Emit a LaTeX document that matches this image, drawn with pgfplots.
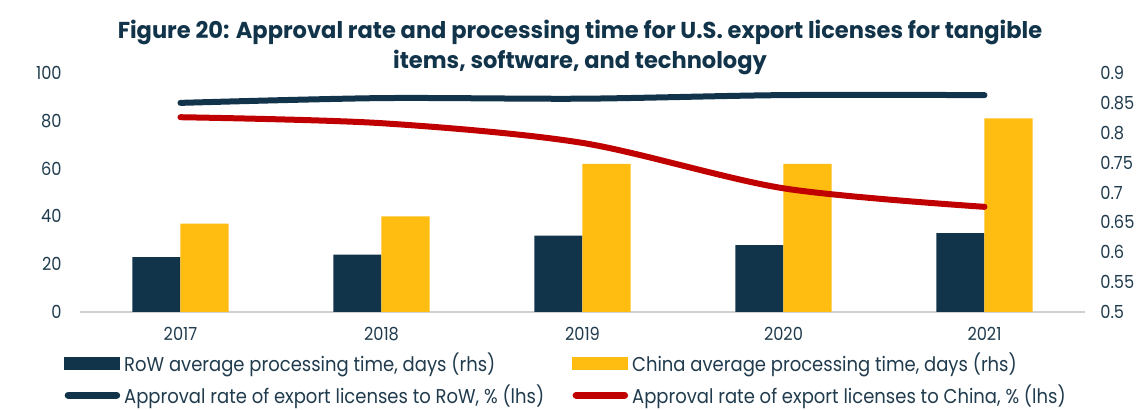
\documentclass[border=0pt]{standalone}
\usepackage{fontspec}
\setmainfont[FakeStretch=0.9]{Poppins}
\newfontfamily\titlefont[FakeStretch=0.98]{Poppins}
\usepackage{pgfplots}
\pgfplotsset{compat=1.18}

\definecolor{navy}{HTML}{12344A}
\definecolor{gold}{HTML}{FFBC11}
\definecolor{redline}{HTML}{C00000}
\definecolor{txt}{HTML}{1F3B4D}
\definecolor{baseline}{HTML}{D0D0D0}

\begin{document}
\begin{tikzpicture}
\pgfplotsset{
  common/.style={
    scale only axis, width=502.5pt, height=119.5pt,
    at={(0,0)}, anchor=south west,
    xmin=-0.5, xmax=4.5,
    tick style={draw=none},
    ticklabel style={font=\fontsize{9}{10}\selectfont, text=txt},
    /pgf/number format/assume math mode=true,
  },
}
% bars, left axis
\begin{axis}[
  common,
  ybar=0pt, bar width=0.24,
  ymin=0, ymax=100, ytick={0,20,40,60,80,100},
  xtick={0,1,2,3,4}, xticklabels={2017,2018,2019,2020,2021},
  axis x line*=bottom, axis y line*=left,
  x axis line style={draw=baseline, line width=1.2pt, -},
  y axis line style={draw=none},
  yticklabel style={inner sep=0pt, xshift=-9pt},
  xticklabel style={inner sep=0pt, yshift=-3pt},
]
\addplot[fill=navy, draw=none] coordinates {(0,23) (1,24) (2,32) (3,28) (4,33)};
\addplot[fill=gold, draw=none] coordinates {(0,37) (1,40) (2,62) (3,62) (4,81)};
\end{axis}
% lines, right axis
\begin{axis}[
  common,
  ymin=0.5, ymax=0.9,
  ytick={0.5,0.55,0.6,0.65,0.7,0.75,0.8,0.85,0.9},
  axis x line=none, axis y line*=right,
  y axis line style={draw=none},
  yticklabel style={inner sep=0pt, xshift=7.5pt, anchor=west},
  legend columns=2,
  legend cell align=left,
  legend style={at={(-0.022,-0.135)}, anchor=north west, draw=none, fill=none,
    font=\fontsize{10}{11.5}\selectfont, text=txt, row sep=1pt,
    /tikz/every even column/.append style={column sep=12pt}},
]
\addlegendimage{legend image code/.code={\fill[navy] (0pt,-3pt) rectangle (27.5pt,3pt);}}
\addlegendentry{RoW average processing time, days (rhs)}
\addlegendimage{legend image code/.code={\fill[gold] (0pt,-3pt) rectangle (27.5pt,3pt);}}
\addlegendentry{China average processing time, days (rhs)}
\addplot[navy, line width=3pt, line cap=round, smooth,
  legend image code/.code={\draw[navy, line width=3.5pt, line cap=round] (1.75pt,0pt) -- (26pt,0pt);}]
  coordinates {(0,0.850) (1,0.858) (2,0.857) (3,0.863) (4,0.863)};
\addlegendentry{Approval rate of export licenses to RoW, \% (lhs)}
\addplot[redline, line width=3pt, line cap=round, smooth,
  legend image code/.code={\draw[redline, line width=3.5pt, line cap=round] (1.75pt,0pt) -- (26pt,0pt);}]
  coordinates {(0,0.826) (1,0.816) (2,0.783) (3,0.707) (4,0.676)};
\addlegendentry{Approval rate of export licenses to China, \% (lhs)}
\end{axis}
\node[font=\titlefont\bfseries\fontsize{11.5}{15}\selectfont, text=navy, align=center] at (250pt,132.5pt)
  {Figure 20: Approval rate and processing time for U.S. export licenses for tangible\\items, software, and technology};
\pgfresetboundingbox
\path[use as bounding box] (-40pt,-49pt) rectangle (530.5pt,156pt);
\end{tikzpicture}
\end{document}
